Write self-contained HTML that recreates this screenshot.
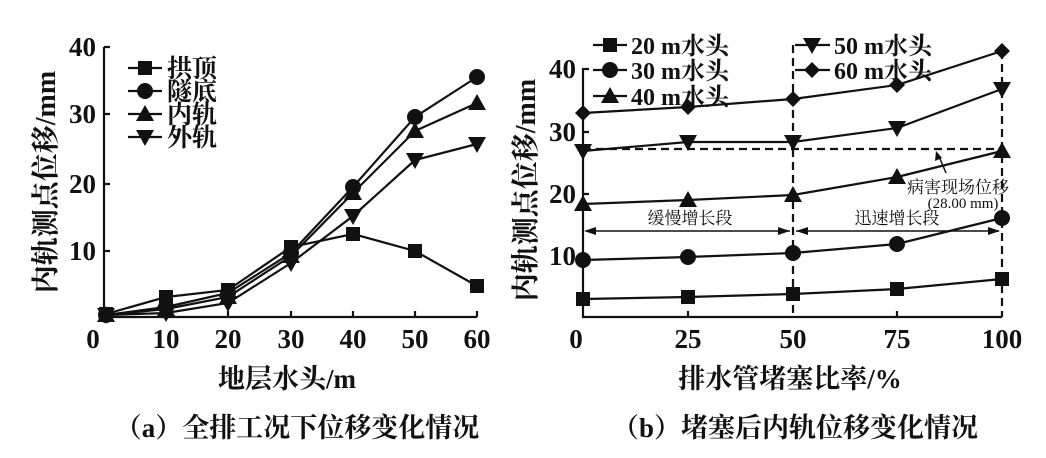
<!DOCTYPE html>
<html><head><meta charset="utf-8"><style>
html,body{margin:0;padding:0;background:#fff;}
svg{display:block;}
.t{font-family:"Liberation Serif","Noto Serif CJK SC",serif;font-weight:bold;fill:#111;}
.c{font-family:"Liberation Serif","Noto Serif CJK SC","Noto Sans CJK SC",serif;fill:#111;font-weight:bold;}
</style></head><body>
<svg width="1046" height="458" viewBox="0 0 1046 458" xmlns="http://www.w3.org/2000/svg">
<defs>
<rect id="sq" x="-7" y="-7" width="14" height="14" fill="#111"/>
<circle id="ci" r="8" fill="#111"/>
<path id="tu" d="M0,-9 L9,7 L-9,7 Z" fill="#111"/>
<path id="td" d="M0,9 L9,-7 L-9,-7 Z" fill="#111"/>
<path id="di" d="M0,-8 L8,0 L0,8 L-8,0 Z" fill="#111"/>
</defs>
<g stroke="#111" stroke-width="2.2" fill="none">
<path d="M104,47 V317 H477"/>
<path d="M104,47 H110 M104,114 H110 M104,184 H110 M104,251 H110"/>
<path d="M166,317 V311 M228,317 V311 M291,317 V311 M353,317 V311 M415,317 V311 M477,317 V311"/>
<polyline points="106,314 166,297 228,290 291,247 353,234 415,251 477,286"/>
<polyline points="106,315 166,307 228,293 291,253 353,187 415,117 477,77"/>
<polyline points="106,315 166,309 228,297 291,256 353,193 415,131 477,103"/>
<polyline points="106,315 166,313 228,303 291,263 353,216 415,160 477,144"/>
<path d="M128,68 H162 M128,91 H162 M128,114 H162 M128,137 H162"/>
<path d="M589,69 H583 V317 H1002"/>
<path d="M583,132 H589 M583,194 H589 M583,256 H589"/>
<path d="M688,317 V311 M897,317 V311"/>
<polyline points="583,299 688,297 793,294 897,289 1002,279"/>
<polyline points="583,260 688,257 793,253 897,244 1002,218"/>
<polyline points="583,204 688,200 793,195 897,177 1002,151"/>
<polyline points="583,151 688,142 793,142 897,128 1002,89"/>
<polyline points="583,113 688,107 793,99 897,85 1002,51"/>
<path d="M593,45 H627 M593,70 H627 M593,96 H627 M795,45 H830 M795,70 H830"/>
<g stroke-dasharray="8,5">
<path d="M583,149 H1002"/>
<path d="M793,45 V317"/>
<path d="M1002,51 V317"/>
</g>
<path d="M938,154 L946,173" stroke-width="1.5"/>
<path d="M586,231 H790 M796,231 H999" stroke-width="1.5"/>
</g>
<g fill="#111">
<path d="M584,231 l12,-4 v8 z M790,231 l-12,-4 v8 z M796,231 l12,-4 v8 z M1000,231 l-12,-4 v8 z"/>
<path d="M936,151 l-1,10 l7,-3 z"/>
</g>
<g>
<use href="#sq" x="106" y="314"/><use href="#sq" x="166" y="297"/><use href="#sq" x="228" y="290"/><use href="#sq" x="291" y="247"/><use href="#sq" x="353" y="234"/><use href="#sq" x="415" y="251"/><use href="#sq" x="477" y="286"/>
<use href="#ci" x="106" y="315"/><use href="#ci" x="166" y="307"/><use href="#ci" x="228" y="293"/><use href="#ci" x="291" y="253"/><use href="#ci" x="353" y="187"/><use href="#ci" x="415" y="117"/><use href="#ci" x="477" y="77"/>
<use href="#tu" x="106" y="315"/><use href="#tu" x="166" y="309"/><use href="#tu" x="228" y="297"/><use href="#tu" x="291" y="256"/><use href="#tu" x="353" y="193"/><use href="#tu" x="415" y="131"/><use href="#tu" x="477" y="103"/>
<use href="#td" x="106" y="315"/><use href="#td" x="166" y="313"/><use href="#td" x="228" y="303"/><use href="#td" x="291" y="263"/><use href="#td" x="353" y="216"/><use href="#td" x="415" y="160"/><use href="#td" x="477" y="144"/>
<use href="#sq" x="145" y="68"/><use href="#ci" x="145" y="91"/><use href="#tu" x="145" y="114"/><use href="#td" x="145" y="137"/>
<use href="#sq" x="583" y="299"/><use href="#sq" x="688" y="297"/><use href="#sq" x="793" y="294"/><use href="#sq" x="897" y="289"/><use href="#sq" x="1002" y="279"/>
<use href="#ci" x="583" y="260"/><use href="#ci" x="688" y="257"/><use href="#ci" x="793" y="253"/><use href="#ci" x="897" y="244"/><use href="#ci" x="1002" y="218"/>
<use href="#tu" x="583" y="204"/><use href="#tu" x="688" y="200"/><use href="#tu" x="793" y="195"/><use href="#tu" x="897" y="177"/><use href="#tu" x="1002" y="151"/>
<use href="#td" x="583" y="151"/><use href="#td" x="688" y="142"/><use href="#td" x="793" y="142"/><use href="#td" x="897" y="128"/><use href="#td" x="1002" y="89"/>
<use href="#di" x="583" y="113"/><use href="#di" x="688" y="107"/><use href="#di" x="793" y="99"/><use href="#di" x="897" y="85"/><use href="#di" x="1002" y="51"/>
<use href="#sq" x="610" y="45"/><use href="#ci" x="610" y="70"/><use href="#tu" x="610" y="96"/><use href="#td" x="812" y="45"/><use href="#di" x="812" y="70"/>
</g>
<g class="t" font-size="27">
<text x="96" y="56" text-anchor="end">40</text>
<text x="96" y="123" text-anchor="end">30</text>
<text x="96" y="193" text-anchor="end">20</text>
<text x="96" y="260" text-anchor="end">10</text>
<text x="93" y="348" text-anchor="middle">0</text>
<text x="166" y="348" text-anchor="middle">10</text>
<text x="228" y="348" text-anchor="middle">20</text>
<text x="291" y="348" text-anchor="middle">30</text>
<text x="353" y="348" text-anchor="middle">40</text>
<text x="415" y="348" text-anchor="middle">50</text>
<text x="477" y="348" text-anchor="middle">60</text>
</g>
<g class="c" font-size="25">
<text x="167" y="77">拱顶</text><text x="167" y="100">隧底</text><text x="167" y="123">内轨</text><text x="167" y="146">外轨</text>
</g>
<text class="c" font-size="28" transform="translate(55,182) rotate(-90)" text-anchor="middle">内轨测点位移/mm</text>
<g class="t" font-size="27">
<text x="576" y="78" text-anchor="end">40</text>
<text x="576" y="141" text-anchor="end">30</text>
<text x="576" y="203" text-anchor="end">20</text>
<text x="576" y="265" text-anchor="end">10</text>
<text x="576" y="348" text-anchor="middle">0</text>
<text x="688" y="348" text-anchor="middle">25</text>
<text x="793" y="348" text-anchor="middle">50</text>
<text x="897" y="348" text-anchor="middle">75</text>
<text x="1002" y="348" text-anchor="middle">100</text>
</g>
<g class="c" font-size="24">
<text x="631" y="54">20 m水头</text>
<text x="631" y="79">30 m水头</text>
<text x="631" y="105">40 m水头</text>
<text x="834" y="54">50 m水头</text>
<text x="834" y="79">60 m水头</text>
</g>
<g class="c" font-size="17" font-weight="normal">
<text x="690" y="224" text-anchor="middle" style="font-weight:normal">缓慢增长段</text>
<text x="897" y="224" text-anchor="middle" style="font-weight:normal">迅速增长段</text>
<text x="958" y="193" text-anchor="middle" style="font-weight:normal">病害现场位移</text>
<text x="963" y="208" text-anchor="middle" font-size="15" style="font-weight:normal">(28.00 mm)</text>
</g>
<text class="c" font-size="28" transform="translate(535,190) rotate(-90)" text-anchor="middle">内轨测点位移/mm</text>
<g class="c" font-size="27">
<text x="287" y="388" text-anchor="middle">地层水头/m</text>
<text x="790" y="388" text-anchor="middle">排水管堵塞比率/%</text>
<text x="297" y="437" text-anchor="middle">（a）全排工况下位移变化情况</text>
<text x="795" y="437" text-anchor="middle">（b）堵塞后内轨位移变化情况</text>
</g>
</svg>
</body></html>
